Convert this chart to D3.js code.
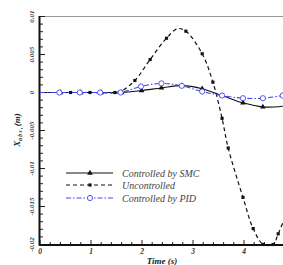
<!DOCTYPE html>
<html>
<head>
<meta charset="utf-8">
<script src="https://cdn.jsdelivr.net/npm/d3@7"></script>
<style>
  body { margin: 0; background: #fff; }
  text { font-family: "Liberation Serif", "DejaVu Serif", serif; }
</style>
</head>
<body>
<svg id="drawing_region"></svg>
<script>
// data
const smcT = [0, 0.4, 0.8, 1.2, 1.6, 1.99, 2.38, 2.78, 3.18, 3.57, 3.98, 4.37, 4.76];
const smcV = [0, 0, 0, 0, 0, 0.00026, 0.0006, 0.0009, 0.0005, -0.0004, -0.00136, -0.0019, -0.0018];

const uncT = [0, 0.6, 0.98, 1.47, 1.6, 1.86, 2.16, 2.48, 2.7, 2.86, 3.18, 3.39, 3.57, 3.69, 3.98, 4.18, 4.38, 4.57, 4.67, 4.8];
const uncV = [0, 0, 0, 0, 0.0002, 0.00158, 0.00434, 0.00714, 0.0084, 0.00807, 0.0051, 0.00136, -0.0034, -0.0073, -0.0138, -0.0179, -0.0200, -0.0200, -0.0186, -0.0165];
const uncMarks = [1, 2, 3, 5, 6, 7, 9, 10, 11, 12, 13, 14, 15, 16, 17, 18];

const pidT = [0, 0.38, 0.78, 1.18, 1.58, 1.98, 2.38, 2.78, 3.18, 3.57, 3.98, 4.37, 4.76];
const pidV = [0, 0, 0, 0, 0, 0.0008, 0.0012, 0.00088, 0.00013, -0.0004, -0.00075, -0.00075, -0.0004];

const xTicks = [0, 1, 2, 3, 4];
const yTicks = [-0.02, -0.015, -0.01, -0.005, 0, 0.005, 0.01];
const yTickLabels = ["-0.02", "-0.015", "-0.01", "-0.005", "0", "0.005", "0.01"];
const legendNames = ["Controlled by SMC", "Uncontrolled", "Controlled by PID"];

const W = 283, H = 265;
const svg = d3.select('#drawing_region').attr('width', W).attr('height', H);

const x = d3.scaleLinear().domain([0, 5]).range([40, 295]);
const y = d3.scaleLinear().domain([-0.02, 0.01]).range([244.5, 16.5]);

// frame top (thin grey)
svg.append('line').attr('x1', 40).attr('x2', W).attr('y1', 16.5).attr('y2', 16.5)
    .attr('stroke', '#999').attr('stroke-width', 1.2);

// minor ticks
const xMinor = d3.range(0, 5.001, 0.2);
const yMinor = d3.range(-0.02, 0.01001, 0.001);
svg.append('g').selectAll('line').data(xMinor).enter().append('line')
    .attr('x1', d => x(d)).attr('x2', d => x(d))
    .attr('y1', 244.5).attr('y2', d => Math.abs(d - Math.round(d)) < 1e-6 ? 240 : 242)
    .attr('stroke', '#222').attr('stroke-width', 1);
svg.append('g').selectAll('line').data(yMinor).enter().append('line')
    .attr('y1', d => y(d)).attr('y2', d => y(d))
    .attr('x1', 40).attr('x2', d => Math.abs(d / 0.005 - Math.round(d / 0.005)) < 1e-6 ? 45 : 43)
    .attr('stroke', '#222').attr('stroke-width', 1);

// axes lines
svg.append('line').attr('x1', 39.5).attr('x2', 39.5).attr('y1', 16).attr('y2', 245.5)
    .attr('stroke', '#111').attr('stroke-width', 2);
svg.append('line').attr('x1', 39).attr('x2', W).attr('y1', 245).attr('y2', 245)
    .attr('stroke', '#111').attr('stroke-width', 2);

// tick labels
svg.append('g').selectAll('text').data(xTicks).enter().append('text')
    .attr('x', d => x(d)).attr('y', 254)
    .attr('text-anchor', 'middle').attr('font-size', 7.5).attr('font-style', 'italic').attr('font-weight', 'bold')
    .attr('fill', '#333').text(d => d);
svg.append('g').selectAll('text').data(yTicks).enter().append('text')
    .attr('transform', d => `translate(34,${y(d)}) rotate(-90)`)
    .attr('text-anchor', 'middle').attr('font-size', 7).attr('font-style', 'italic').attr('font-weight', 'bold')
    .attr('fill', '#333').text((d, i) => yTickLabels[i]);

// axis titles
svg.append('text').attr('x', 162).attr('y', 264)
    .attr('text-anchor', 'middle').attr('font-size', 9).attr('font-style', 'italic').attr('font-weight', 'bold')
    .attr('fill', '#222').text('Time (s)');
const yl = svg.append('text').attr('transform', 'translate(20,130) rotate(-90)')
    .attr('text-anchor', 'middle').attr('font-size', 9).attr('font-style', 'italic').attr('font-weight', 'bold')
    .attr('fill', '#222');
yl.append('tspan').text('X');
yl.append('tspan').attr('font-size', 5.5).attr('dy', 2).text('a b s , ');
yl.append('tspan').attr('dy', -2).text(' (m)');

// curves
svg.append('clipPath').attr('id', 'clip').append('rect')
    .attr('x', 40).attr('y', 16).attr('width', 260).attr('height', 232);
const plot = svg.append('g').attr('clip-path', 'url(#clip)');

const line = d3.line().x(d => x(d[0])).y(d => y(d[1])).curve(d3.curveCatmullRom.alpha(0.5));
const zip = (a, b) => a.map((t, i) => [t, b[i]]);

const smc = zip(smcT, smcV), unc = zip(uncT, uncV), pid = zip(pidT, pidV);

plot.append('path').attr('d', line(smc)).attr('fill', 'none').attr('stroke', '#111').attr('stroke-width', 1.1);
plot.append('path').attr('d', line(unc)).attr('fill', 'none').attr('stroke', '#111').attr('stroke-width', 1.2)
    .attr('stroke-dasharray', '4,3');
plot.append('path').attr('d', line(pid)).attr('fill', 'none').attr('stroke', '#4444ee').attr('stroke-width', 1.1)
    .attr('stroke-dasharray', '5,2,1.5,2');

const tri = d3.symbol().type(d3.symbolTriangle).size(14);
const sq = d3.symbol().type(d3.symbolSquare).size(10);

plot.append('g').selectAll('path').data(smc.slice(1, -1)).enter().append('path')
    .attr('d', tri).attr('transform', d => `translate(${x(d[0])},${y(d[1])})`).attr('fill', '#111');
plot.append('g').selectAll('path').data(uncMarks.map(i => unc[i])).enter().append('path')
    .attr('d', sq).attr('transform', d => `translate(${x(d[0])},${y(d[1])})`).attr('fill', '#111');
plot.append('g').selectAll('circle').data(pid.slice(1)).enter().append('circle')
    .attr('cx', d => x(d[0])).attr('cy', d => y(d[1])).attr('r', 2.6)
    .attr('fill', '#fff').attr('stroke', '#4444ee').attr('stroke-width', 0.9);

// legend
const lg = svg.append('g');
const ly = [173, 185, 198];
const styles = [
    { stroke: '#111', dash: null },
    { stroke: '#111', dash: '4,3' },
    { stroke: '#4444ee', dash: '5,2,1.5,2' }
];
legendNames.forEach((name, i) => {
    lg.append('line').attr('x1', 66).attr('x2', 113).attr('y1', ly[i]).attr('y2', ly[i])
        .attr('stroke', styles[i].stroke).attr('stroke-width', 1.1)
        .attr('stroke-dasharray', styles[i].dash);
    if (i === 0) lg.append('path').attr('d', tri).attr('transform', `translate(90,${ly[i]})`).attr('fill', '#111');
    if (i === 1) lg.append('path').attr('d', sq).attr('transform', `translate(90,${ly[i]})`).attr('fill', '#111');
    if (i === 2) lg.append('circle').attr('cx', 90).attr('cy', ly[i]).attr('r', 2.6)
        .attr('fill', '#fff').attr('stroke', '#4444ee').attr('stroke-width', 0.9);
    lg.append('text').attr('x', 122).attr('y', ly[i] + 3.5)
        .attr('font-size', 10).attr('font-style', 'italic').attr('fill', '#444').text(name);
});
</script>
</body>
</html>
